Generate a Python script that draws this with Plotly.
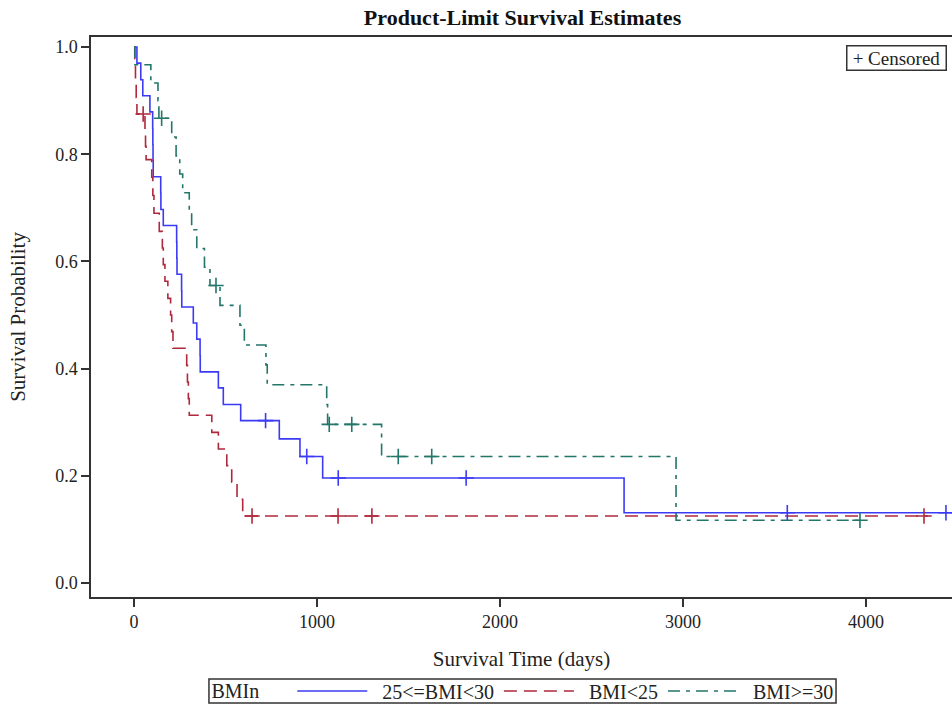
import numpy as np
import plotly.graph_objects as go

# ---- data ----
group_names = ["25<=BMI<30", "BMI<25", "BMI>=30"]

blue_t = [0, 16, 37, 48, 87, 102, 103, 104, 105, 146, 147, 160, 233, 234, 235, 260, 261,
          324, 343, 361, 362, 461, 488, 583, 794, 907, 1031, 2678]
blue_s = [1.0, 0.970, 0.939, 0.909, 0.879, 0.848, 0.818, 0.788, 0.758, 0.727, 0.697, 0.667,
          0.636, 0.606, 0.576, 0.545, 0.515, 0.485, 0.455, 0.424, 0.394, 0.364, 0.333, 0.303,
          0.269, 0.236, 0.196, 0.131]
blue_end = 4470
blue_cens = [719, 944, 1116, 1815, 3570, 4437]

red_t = [0, 4, 8, 12, 16, 60, 63, 66, 97, 103, 109, 138, 155, 160, 169, 185, 200, 206, 213,
         288, 292, 297, 302, 425, 461, 507, 534, 563, 594]
red_s = [1.0, 0.969, 0.938, 0.906, 0.875, 0.845, 0.815, 0.79, 0.757, 0.723, 0.69, 0.656,
         0.625, 0.594, 0.563, 0.531, 0.5, 0.469, 0.438, 0.406, 0.375, 0.344, 0.313, 0.281,
         0.25, 0.219, 0.188, 0.156, 0.125]
red_end = 4340
red_cens = [50, 645, 1115, 1300, 4317]

green_t = [0, 5, 92, 131, 136, 206, 230, 250, 266, 302, 315, 343, 385, 415, 470, 579, 603,
           721, 728, 1053, 1058, 1353, 2962]
green_s = [1.0, 0.967, 0.933, 0.90, 0.867, 0.832, 0.797, 0.763, 0.728, 0.693, 0.659, 0.624,
           0.589, 0.555, 0.518, 0.481, 0.444, 0.407, 0.37, 0.333, 0.296, 0.236, 0.117]
green_end = 3975
green_cens = [151, 448, 1067, 1190, 1444, 1627, 3967]

x_ticks = [0, 1000, 2000, 3000, 4000]
y_ticks = [0.0, 0.2, 0.4, 0.6, 0.8, 1.0]

# ---- styles ----
FONT = "Liberation Serif, Times New Roman, serif"
colors = ["#3b3bf5", "#b0283c", "#23766a"]
dashes = ["solid", "13px,7px", "12px,6px,4px,6px"]
NB = "\u00a0"

groups = [
    (blue_t, blue_s, blue_end, blue_cens),
    (red_t, red_s, red_end, red_cens),
    (green_t, green_s, green_end, green_cens),
]

fig = go.Figure()
for name, (t, s, end, cens), col, dash in zip(group_names, groups, colors, dashes):
    fig.add_trace(go.Scatter(
        x=list(t) + [end], y=list(s) + [s[-1]], mode="lines", name=NB * 2 + name,
        line=dict(color=col, width=1.6, dash=dash, shape="hv"), hoverinfo="skip"))
for name, (t, s, end, cens), col in zip(group_names, groups, colors):
    idx = np.searchsorted(np.array(t), np.array(cens), side="right") - 1
    cy = [s[i] for i in idx]
    fig.add_trace(go.Scatter(
        x=cens, y=cy, mode="markers", showlegend=False, hoverinfo="skip", cliponaxis=False,
        marker=dict(symbol="cross-thin", size=11, color=col,
                    line=dict(color=col, width=1.6))))

axis_common = dict(
    showgrid=False, zeroline=False, showline=True, linecolor="#333", linewidth=1.5,
    ticks="outside", ticklen=8, tickwidth=1.5, tickcolor="#333", automargin=False,
    tickfont=dict(family=FONT, size=18, color="#222"),
)

W, H = 952, 709
fig.update_layout(
    width=W, height=H,
    margin=dict(l=91, r=0, t=37, b=112, autoexpand=False),
    paper_bgcolor="white", plot_bgcolor="white",
    font=dict(family=FONT, color="#222"),
    title=dict(text="<b>Product-Limit Survival Estimates</b>", x=0.5012, xref="paper",
               xanchor="center", y=1 - 17 / H, yref="container", yanchor="middle",
               font=dict(family=FONT, size=22, color="#111")),
    xaxis=dict(range=[-235, 4470], tickvals=x_ticks, mirror=True,
               title=dict(text="Survival Time (days)", standoff=20,
                          font=dict(family=FONT, size=21, color="#222")),
               **axis_common),
    yaxis=dict(range=[-0.0261, 1.0187], tickvals=y_ticks, tickformat=".1f", mirror=False,
               title=dict(text="Survival Probability", standoff=24,
                          font=dict(family=FONT, size=21, color="#222")),
               **axis_common),
    legend=dict(orientation="h", x=0.5029, xanchor="center", y=-0.16786, yanchor="middle",
                borderwidth=0, itemwidth=70, bgcolor="rgba(0,0,0,0)",
                font=dict(family=FONT, size=20, color="#222"),
                title=dict(text="BMIn" + NB * 5, side="left",
                           font=dict(family=FONT, size=20, color="#222"))),
    shapes=[dict(type="rect", xref="paper", yref="paper", x0=0.1370, x1=0.8653,
                 y0=-0.18929, y1=-0.14643, line=dict(color="#333", width=1.5))],
    annotations=[dict(text="+ Censored", x=1, xref="paper", xanchor="right", xshift=-5,
                      y=1, yref="paper", yanchor="top", yshift=-8, showarrow=False,
                      width=96, align="center",
                      bordercolor="#333", borderwidth=1.5, borderpad=1,
                      font=dict(family=FONT, size=19, color="#222"))],
)

# remove the page's default 8px body margin so the figure fills the window exactly
fig.write_html("out.html", config={"displayModeBar": False},
               post_script="document.body.style.margin='0';document.body.style.overflow='hidden';")
